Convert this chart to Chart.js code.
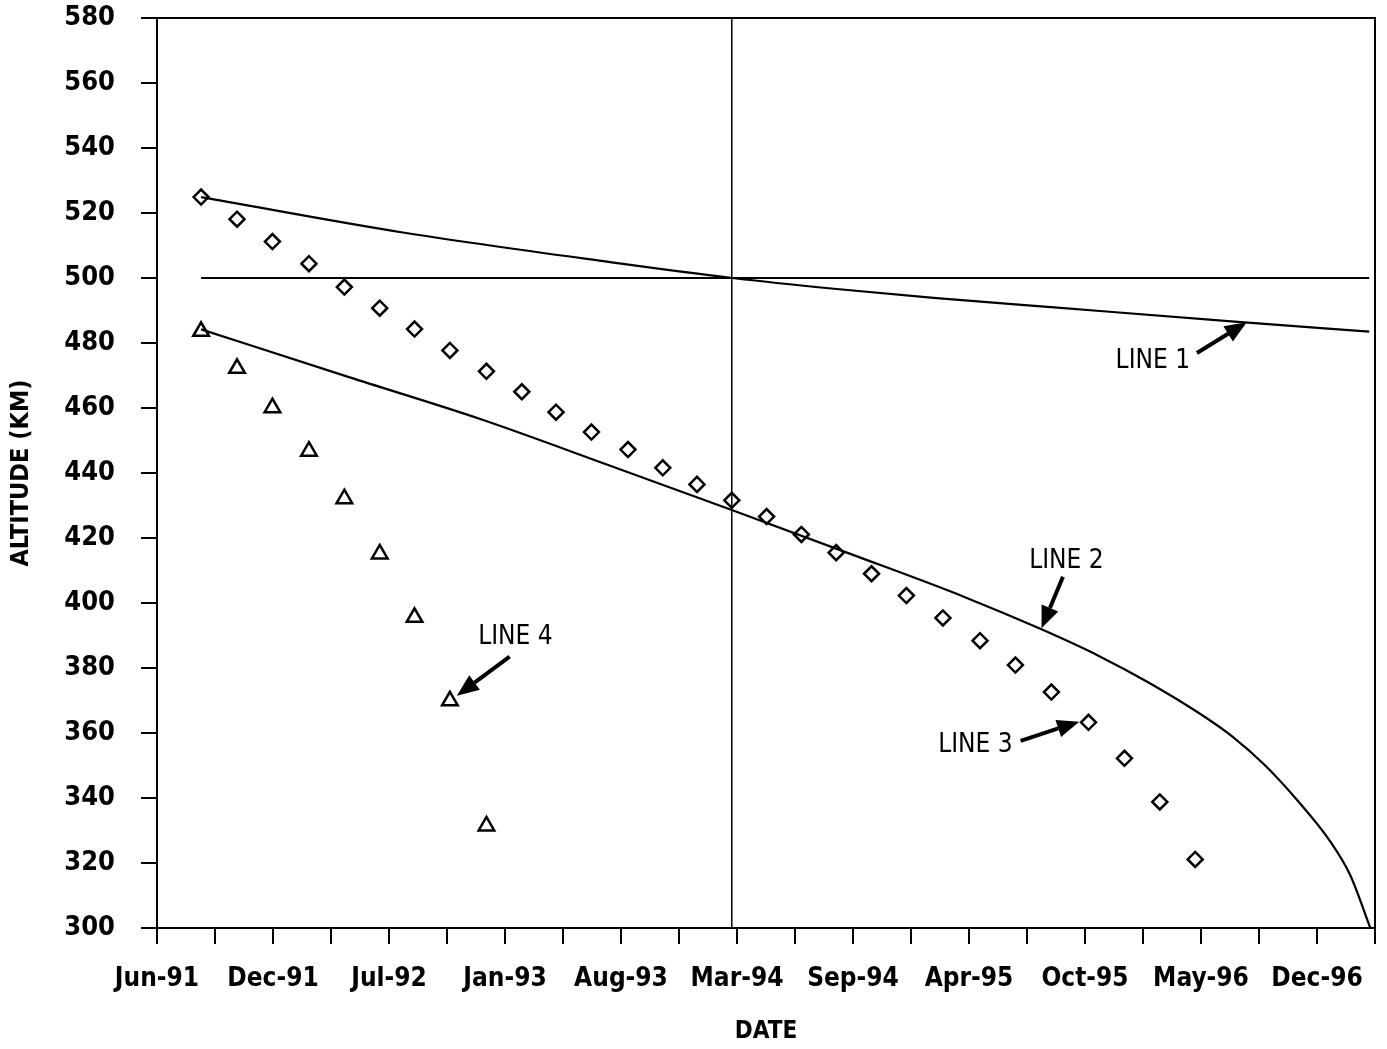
<!DOCTYPE html>
<html>
<head>
<meta charset="utf-8">
<title>Altitude (km) vs Date</title>
<script src="https://cdn.jsdelivr.net/npm/chart.js@4.4.0/dist/chart.umd.min.js"></script>
<style>
  html, body { margin: 0; padding: 0; background: #fff; }
  #chart { display: block; }
</style>
</head>
<body>
<canvas id="chart" width="1387" height="1049"></canvas>
<script>
/* ══════════════════════════════════════════
   Altitude decay chart — LINE 1..4
   x = days after the Jun-91 axis origin
   y = altitude in km
   ══════════════════════════════════════════ */

// ── Axis labels ──────────────────────────
const xTickLabels = ["Jun-91", "Dec-91", "Jul-92", "Jan-93", "Aug-93", "Mar-94",
                     "Sep-94", "Apr-95", "Oct-95", "May-96", "Dec-96"];
const yTitle = "ALTITUDE (KM)";
const xTitle = "DATE";

// ── Sample dates (shared by LINE 3 and LINE 4) ──
const sampleDays = [76, 138, 199, 262, 323, 384, 444, 505, 568, 629, 688, 749, 812, 872,
                    931, 991, 1051, 1111, 1171, 1232, 1292, 1355, 1419, 1480, 1542, 1606,
                    1668, 1729, 1790];

// ── LINE 3 (diamonds) ────────────────────
const line3Alt = [524.9, 518.1, 511.2, 504.4, 497.2, 490.7, 484.3, 477.7, 471.3, 465.0,
                  458.7, 452.6, 447.2, 441.6, 436.5, 431.6, 426.6, 421.1, 415.5, 409.0,
                  402.3, 395.4, 388.4, 380.9, 372.6, 363.3, 352.2, 338.8, 321.1];

// ── LINE 4 (triangles) ───────────────────
const line4Alt = [483.6, 472.2, 460.1, 446.7, 432.1, 415.1, 395.6, 369.9, 331.4];

// ── LINE 1 ───────────────────────────────
const line1Days = [76, 424, 781, 992, 1167, 1339, 1558, 1858, 2090];
const line1Alt  = [524.9, 514.0, 504.9, 500.0, 496.7, 493.9, 490.8, 486.6, 483.5];

// ── LINE 2 ───────────────────────────────
const line2Days = [76, 331, 561, 779, 991, 1200, 1393, 1525, 1623, 1708, 1795, 1852,
                   1909, 1966, 2023, 2057, 2092];
const line2Alt  = [484.2, 469.5, 456.4, 442.4, 428.6, 414.8, 401.8, 391.9, 383.8, 375.7,
                   366.3, 359.2, 350.3, 339.3, 326.6, 316.4, 300.0];

// ── Reference lines ──────────────────────
const refDays    = [76, 2090];
const refAlt     = [500, 500];
const markerDays = [991, 991];
const markerAlt  = [300, 580];

// ── Callouts (text centre, arrow tail, arrow tip) in data units ──
const notes = [
  { text: "LINE 1", at: [1717, 474.3], from: [1793, 476.9], to: [1879, 486.4] },
  { text: "LINE 2", at: [1568, 413.0], from: [1562, 408.1], to: [1525, 392.2] },
  { text: "LINE 3", at: [1411, 356.3], from: [1489, 357.6], to: [1590, 363.5] },
  { text: "LINE 4", at: [618, 389.4],  from: [608, 383.5],  to: [517, 371.5] },
];

// ── Helpers ──────────────────────────────
const zip = (xs, ys) => ys.map((y, i) => ({ x: xs[i], y }));
const FONT = '"DejaVu Sans Condensed", "DejaVu Sans", sans-serif';

function drawArrow(ctx, x0, y0, x1, y1) {
  const ang  = Math.atan2(y1 - y0, x1 - x0);
  const head = 22, half = 9;
  const bx = x1 - Math.cos(ang) * head;
  const by = y1 - Math.sin(ang) * head;
  ctx.lineWidth = 4;
  ctx.beginPath();
  ctx.moveTo(x0, y0);
  ctx.lineTo(bx, by);
  ctx.stroke();
  ctx.beginPath();
  ctx.moveTo(x1, y1);
  ctx.lineTo(bx + Math.sin(ang) * half, by - Math.cos(ang) * half);
  ctx.lineTo(bx - Math.sin(ang) * half, by + Math.cos(ang) * half);
  ctx.closePath();
  ctx.fill();
}

// fixed axis boxes: no extra label overhang padding
function fixBox(size, key) {
  return s => {
    s[key] = size;
    s.paddingTop = s.paddingBottom = s.paddingLeft = s.paddingRight = 0;
  };
}

// frame round the plot + callouts
const framePlugin = {
  id: "frameAndNotes",
  afterDatasetsDraw(chart) {
    const { ctx, chartArea: a, scales: { x, y } } = chart;
    ctx.save();
    ctx.strokeStyle = "#000";
    ctx.lineWidth = 2;
    ctx.strokeRect(a.left, a.top, a.right - a.left, a.bottom - a.top);

    ctx.fillStyle = "#000";
    ctx.font = "normal 26px " + FONT;
    ctx.textAlign = "center";
    ctx.textBaseline = "middle";
    notes.forEach(n => {
      ctx.fillText(n.text, x.getPixelForValue(n.at[0]), y.getPixelForValue(n.at[1]));
      drawArrow(ctx,
        x.getPixelForValue(n.from[0]), y.getPixelForValue(n.from[1]),
        x.getPixelForValue(n.to[0]),   y.getPixelForValue(n.to[1]));
    });
    ctx.restore();
  }
};

// ── Chart ────────────────────────────────
const lineStyle = { borderColor: "#000", borderWidth: 2.2, pointRadius: 0, fill: false };

new Chart(document.getElementById("chart"), {
  type: "scatter",
  data: {
    datasets: [
      { label: "500 km", data: zip(refDays, refAlt), showLine: true, ...lineStyle },
      { label: "Mar-94", data: zip(markerDays, markerAlt), showLine: true, ...lineStyle, borderWidth: 1.5 },
      { label: "LINE 1", data: zip(line1Days, line1Alt), showLine: true, ...lineStyle,
        cubicInterpolationMode: "monotone" },
      { label: "LINE 2", data: zip(line2Days, line2Alt), showLine: true, ...lineStyle,
        cubicInterpolationMode: "monotone" },
      { label: "LINE 3", data: zip(sampleDays, line3Alt), showLine: false,
        pointStyle: "rectRot", pointRadius: 7.5, borderWidth: 2.5,
        borderColor: "#000", backgroundColor: "#fff" },
      { label: "LINE 4", data: zip(sampleDays, line4Alt), showLine: false,
        pointStyle: "triangle", pointRadius: 9, borderWidth: 2.5,
        borderColor: "#000", backgroundColor: "#fff" },
    ]
  },
  options: {
    responsive: false,
    animation: false,
    devicePixelRatio: 1,
    layout: { padding: { top: 18, right: 12, left: 0, bottom: 0 } },
    plugins: { legend: { display: false }, tooltip: { enabled: false } },
    scales: {
      x: {
        type: "linear",
        min: 0, max: 2100,
        afterFit: fixBox(121, "height"),
        border: { display: true, color: "#000", width: 2 },
        grid: { display: true, drawOnChartArea: false, drawTicks: true,
                tickLength: 16, color: "#000", lineWidth: 2 },
        ticks: {
          stepSize: 100, autoSkip: false, maxRotation: 0, padding: 20,
          color: "#000", font: { family: FONT, size: 26, weight: "bold" },
          callback: (v) => (v % 200 === 0 ? xTickLabels[v / 200] || "" : "")
        },
        title: { display: true, text: xTitle, color: "#000",
                 font: { family: FONT, size: 24, weight: "bold" },
                 padding: { top: 0, bottom: 3 } }
      },
      y: {
        min: 300, max: 580,
        afterFit: fixBox(157, "width"),
        border: { display: true, color: "#000", width: 2 },
        grid: { display: true, drawOnChartArea: false, drawTicks: true,
                tickLength: 16, color: "#000", lineWidth: 2 },
        ticks: {
          stepSize: 20, padding: 26, color: "#000",
          font: { family: FONT, size: 27, weight: "bold" }
        },
        title: { display: true, text: yTitle, color: "#000",
                 font: { family: FONT, size: 25, weight: "bold" },
                 padding: { top: 6, bottom: 0 } }
      }
    }
  },
  plugins: [framePlugin]
});
</script>
</body>
</html>
